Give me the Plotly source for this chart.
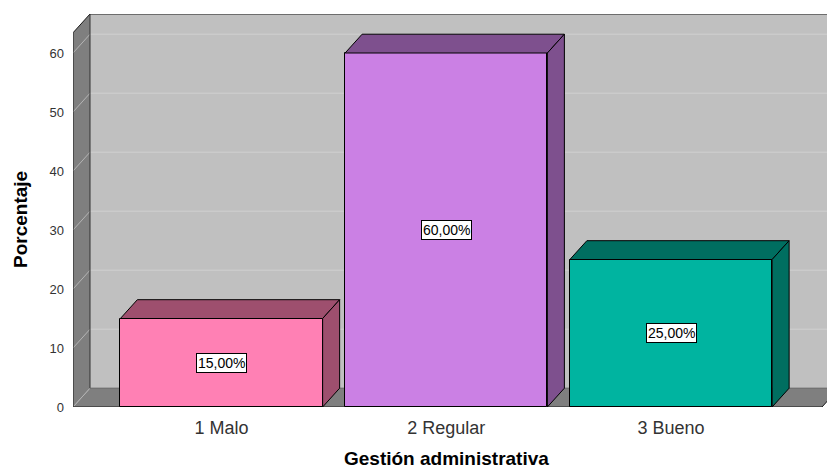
import plotly.graph_objects as go

# ---- data ----
categories = ["1 Malo", "2 Regular", "3 Bueno"]
values = [15.0, 60.0, 25.0]
y_ticks = [0, 10, 20, 30, 40, 50, 60]
x_title = "Gestión administrativa"
y_title = "Porcentaje"

# ---- style ----
front_colors = ["#FF80B4", "#CB80E4", "#00B4A0"]
dark_colors = ["#9E4F6E", "#7E508E", "#006E60"]
BACK = "#C0C0C0"
SIDE = "#7F7F7F"
FONT = "Arial, Liberation Sans, sans-serif"

W, H = 827, 470
ml, mr, mt, mb = 73, 0, 14, 63
px_per_cat = 224.75
px_per_unit = 5.9
xmin = -(221.5 - ml) / px_per_cat
xmax = xmin + (W - ml - mr) / px_per_cat
ymax = (H - mt - mb) / px_per_unit
dx = 17 / px_per_cat
dy = 18.8 / px_per_unit
bw = 0.9
xs = list(range(len(categories)))
xfloor = xmin + (822 - ml) / px_per_cat  # front right corner of floor

fig = go.Figure()

shapes = []
# back wall
shapes.append(dict(type="rect", xref="x", yref="y", x0=xmin + dx, x1=xmax + 1, y0=dy, y1=ymax,
                   fillcolor=BACK, line=dict(width=0), layer="below"))
# left wall
shapes.append(dict(type="path", xref="x", yref="y",
                   path=f"M {xmin},0 L {xmin},{ymax-dy} L {xmin+dx},{ymax} L {xmin+dx},{dy} Z",
                   fillcolor=SIDE, line=dict(width=0), layer="below"))
# floor
shapes.append(dict(type="path", xref="x", yref="y",
                   path=f"M {xmin},0 L {xmin+dx},{dy} L {xfloor+dx},{dy} L {xfloor},0 Z",
                   fillcolor=SIDE, line=dict(width=0), layer="below"))
# gridlines
for v in y_ticks:
    shapes.append(dict(type="line", xref="x", yref="y", x0=xmin, y0=v, x1=xmin + dx, y1=v + dy,
                       line=dict(color="#B4B4B4", width=1), layer="below"))
    if v > 0:
        shapes.append(dict(type="line", xref="x", yref="y", x0=xmin + dx, y0=v + dy, x1=xmax + 1, y1=v + dy,
                           line=dict(color="#D0D0D0", width=1), layer="below"))
# edges
edge = dict(color="#1A1A1A", width=1)
shapes.append(dict(type="path", xref="x", yref="y",
                   path=f"M {xmin},0 L {xmin},{ymax-dy} L {xmin+dx},{ymax} L {xmax+1},{ymax}",
                   line=edge, layer="below"))
shapes.append(dict(type="line", xref="x", yref="y", x0=xmin, y0=0, x1=xfloor, y1=0,
                   line=edge, layer="below"))
shapes.append(dict(type="line", xref="x", yref="y", x0=xmin + dx, y0=dy, x1=xmin + dx, y1=ymax,
                   line=dict(color="#333333", width=1), layer="below"))
shapes.append(dict(type="line", xref="x", yref="y", x0=xmin + dx, y0=dy, x1=xmax + 1, y1=dy,
                   line=dict(color="#606060", width=1), layer="below"))
shapes.append(dict(type="line", xref="x", yref="y", x0=xfloor, y0=0, x1=xfloor + dx, y1=dy,
                   line=edge, layer="below"))

# front faces
fig.add_trace(go.Bar(x=xs, y=values, width=bw, marker=dict(color=front_colors,
                     line=dict(color="#000000", width=1)), hoverinfo="skip", showlegend=False))

# top and side faces
for i, v in enumerate(values):
    l, r = i - bw / 2, i + bw / 2
    fig.add_trace(go.Scatter(x=[l, l + dx, r + dx, r, l], y=[v, v + dy, v + dy, v, v],
                             mode="lines", fill="toself", fillcolor=dark_colors[i],
                             line=dict(color="#000000", width=1), hoverinfo="skip", showlegend=False))
    fig.add_trace(go.Scatter(x=[r, r + dx, r + dx, r, r], y=[0, dy, v + dy, v, 0],
                             mode="lines", fill="toself", fillcolor=dark_colors[i],
                             line=dict(color="#000000", width=1), hoverinfo="skip", showlegend=False))

annotations = []
for i, v in enumerate(values):
    annotations.append(dict(x=i, y=v / 2, xref="x", yref="y", showarrow=False,
                            text=f"{v:.2f}%".replace(".", ","),
                            font=dict(family=FONT, size=14, color="#000000"),
                            bgcolor="#FFFFFF", bordercolor="#000000", borderwidth=1, borderpad=1))
plot_h = H - mt - mb
plot_w = W - ml - mr
annotations.append(dict(x=1, xref="x", y=-(458 - (H - mb)) / plot_h, yref="paper",
                        text=f"<b>{x_title}</b>", showarrow=False, yanchor="middle",
                        font=dict(family=FONT, size=19, color="#000000")))
annotations.append(dict(x=(20 - ml) / plot_w, xref="paper", y=((H - mb) - 220) / plot_h, yref="paper",
                        text=f"<b>{y_title}</b>", showarrow=False, textangle=-90,
                        xanchor="center", yanchor="middle",
                        font=dict(family=FONT, size=19, color="#000000")))

fig.update_layout(
    width=W, height=H,
    margin=dict(l=ml, r=mr, t=mt, b=mb),
    paper_bgcolor="#FFFFFF", plot_bgcolor="#FFFFFF",
    shapes=shapes, annotations=annotations,
    bargap=0, showlegend=False,
    xaxis=dict(range=[xmin, xmax], tickvals=xs, ticktext=categories, showgrid=False,
               zeroline=False, showline=False, ticks="", ticklabelstandoff=8,
               tickfont=dict(family=FONT, size=18, color="#333333"), fixedrange=True),
    yaxis=dict(range=[0, ymax], tickvals=y_ticks, ticktext=[str(t) for t in y_ticks],
               showgrid=False, zeroline=False, showline=False, ticks="", ticklabelstandoff=8,
               tickfont=dict(family=FONT, size=13, color="#333333"), fixedrange=True),
)

fig.write_html("out.html", config={"displayModeBar": False},
               post_script="document.body.style.margin='0';document.body.style.overflow='hidden';")
